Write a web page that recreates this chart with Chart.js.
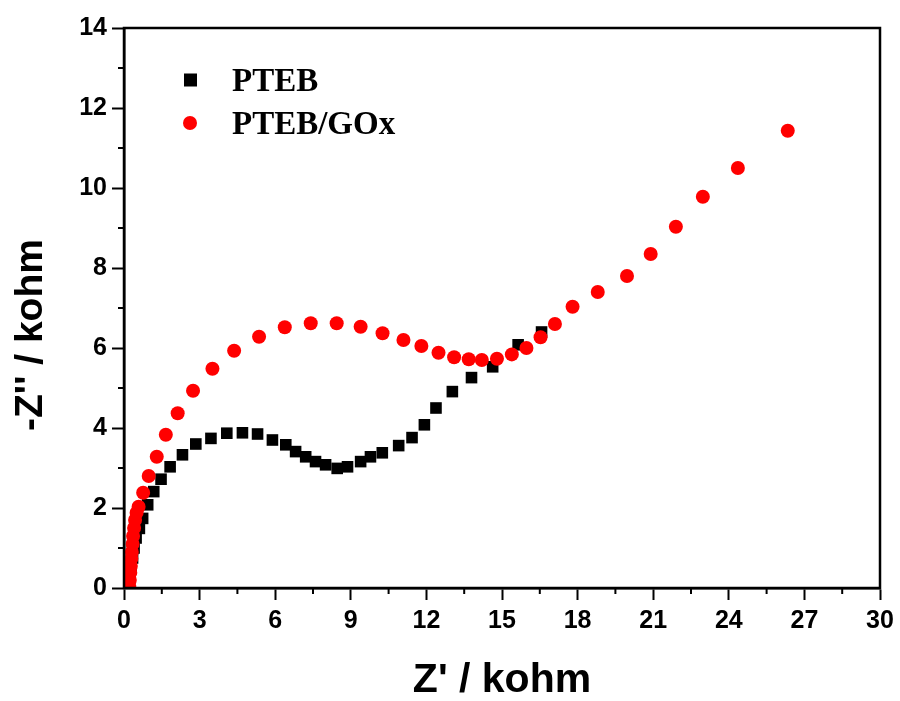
<!DOCTYPE html>
<html>
<head>
<meta charset="utf-8">
<title>Nyquist plot</title>
<script src="https://cdnjs.cloudflare.com/ajax/libs/Chart.js/4.4.1/chart.umd.min.js"></script>
<style>
  html, body { margin: 0; padding: 0; background: #fff; }
  #wrap { position: relative; width: 900px; height: 701px; }
</style>
</head>
<body>
<div id="wrap"><canvas id="nyquist"></canvas></div>
<script>
// Z' (x) and -Z'' (y) in kohm
const pteb_x = [0.2, 0.24, 0.28, 0.34, 0.40, 0.48, 0.61, 0.74, 0.94, 1.18, 1.47, 1.83, 2.32, 2.85, 3.45, 4.08,
  4.70, 5.30, 5.89, 6.42, 6.81, 7.21, 7.60, 8.0, 8.46, 8.87, 9.39, 9.78, 10.25, 10.9, 11.43, 11.92, 12.38,
  13.03, 13.79, 14.63, 15.64, 16.57];
const pteb_y = [0.03, 0.25, 0.5, 0.75, 1.0, 1.25, 1.49, 1.74, 2.08, 2.41, 2.72, 3.03, 3.33, 3.6, 3.74, 3.87,
  3.88, 3.85, 3.7, 3.58, 3.41, 3.28, 3.16, 3.08, 2.99, 3.03, 3.16, 3.28, 3.38, 3.56, 3.76, 4.08, 4.5,
  4.91, 5.26, 5.53, 6.08, 6.4];

const gox_x = [0.21, 0.23, 0.25, 0.27, 0.29, 0.31, 0.34, 0.36, 0.40, 0.44, 0.50, 0.58, 0.76, 0.98, 1.30,
  1.66, 2.13, 2.74, 3.51, 4.37, 5.36, 6.38, 7.41, 8.44, 9.39, 10.26, 11.09, 11.8, 12.48, 13.1, 13.68,
  14.2, 14.8, 15.39, 15.97, 16.53, 17.1, 17.8, 18.8, 19.96, 20.9, 21.9, 22.97, 24.36, 26.34];
const gox_y = [0.05, 0.2, 0.38, 0.55, 0.73, 0.9, 1.1, 1.3, 1.5, 1.7, 1.88, 2.03, 2.38, 2.8, 3.28,
  3.83, 4.37, 4.93, 5.48, 5.93, 6.28, 6.52, 6.62, 6.62, 6.53, 6.37, 6.2, 6.05, 5.88, 5.77, 5.72,
  5.7, 5.73, 5.84, 6.0, 6.27, 6.6, 7.03, 7.4, 7.8, 8.35, 9.03, 9.78, 10.5, 11.43];

const seriesNames = ['PTEB', 'PTEB/GOx'];
const xTitle = "Z' / kohm";
const yTitle = "-Z'' / kohm";

const SANS = "'Liberation Sans', Arial, sans-serif";
const SERIF = "'Liberation Serif', 'Times New Roman', serif";

const toPts = (xs, ys) => xs.map((x, i) => ({ x: x, y: ys[i] }));

// frame, minor ticks, rotated y title and the inset legend
const decorations = {
  id: 'decorations',
  afterDraw(chart) {
    const ctx = chart.ctx;
    const a = chart.chartArea;
    const xs = chart.scales.x, ys = chart.scales.y;
    ctx.save();
    ctx.strokeStyle = '#000';
    ctx.lineWidth = 2.5;
    ctx.strokeRect(a.left, a.top, a.right - a.left, a.bottom - a.top);

    ctx.lineWidth = 2;
    ctx.beginPath();
    for (let v = 1.5; v < 30; v += 3) {
      const px = xs.getPixelForValue(v);
      ctx.moveTo(px, a.bottom);
      ctx.lineTo(px, a.bottom + 6);
    }
    for (let v = 1; v < 14; v += 2) {
      const py = ys.getPixelForValue(v);
      ctx.moveTo(a.left - 6, py);
      ctx.lineTo(a.left, py);
    }
    ctx.stroke();

    ctx.fillStyle = '#000';
    ctx.font = 'bold 39px ' + SANS;
    ctx.textAlign = 'center';
    ctx.textBaseline = 'middle';
    ctx.translate(31, 335);
    ctx.rotate(-Math.PI / 2);
    ctx.fillText(yTitle, 0, 0);
    ctx.restore();

    ctx.save();
    ctx.font = 'bold 33px ' + SERIF;
    ctx.textAlign = 'left';
    ctx.textBaseline = 'middle';
    chart.data.datasets.forEach((ds, i) => {
      const cy = 80 + i * 43;
      ctx.fillStyle = ds.backgroundColor;
      if (ds.pointStyle === 'rect') {
        ctx.fillRect(184, cy - 6.5, 13, 13);
      } else {
        ctx.beginPath();
        ctx.arc(190, cy, 7, 0, Math.PI * 2);
        ctx.fill();
      }
      ctx.fillStyle = '#000';
      ctx.fillText(ds.label, 232, cy + 2);
    });
    ctx.restore();
  }
};

new Chart(document.getElementById('nyquist'), {
  type: 'scatter',
  data: {
    datasets: [
      {
        label: seriesNames[0],
        data: toPts(pteb_x, pteb_y),
        pointStyle: 'rect',
        pointRadius: 8.2,
        pointHoverRadius: 8.2,
        backgroundColor: '#000',
        borderColor: '#000',
        borderWidth: 0,
        order: 2
      },
      {
        label: seriesNames[1],
        data: toPts(gox_x, gox_y),
        pointStyle: 'circle',
        pointRadius: 7,
        pointHoverRadius: 7,
        backgroundColor: 'rgb(255,0,0)',
        borderColor: 'rgb(255,0,0)',
        borderWidth: 0,
        order: 1
      }
    ]
  },
  options: {
    responsive: true,
    maintainAspectRatio: false,
    animation: false,
    layout: { padding: { top: 28, right: 20, left: 0, bottom: 0 } },
    plugins: {
      legend: { display: false },
      tooltip: { enabled: false }
    },
    scales: {
      x: {
        type: 'linear',
        min: 0,
        max: 30,
        afterFit(scale) { scale.height = 113; },
        border: { display: true, color: '#000', width: 2.5 },
        grid: { drawOnChartArea: false, drawTicks: true, tickLength: 12, tickWidth: 2, tickColor: '#000' },
        ticks: { stepSize: 3, padding: 6, color: '#000', maxRotation: 0, font: { family: SANS, size: 25, weight: 'bold' } },
        title: {
          display: true,
          text: xTitle,
          color: '#000',
          font: { family: SANS, size: 41, weight: 'bold', lineHeight: 1 },
          padding: { top: 0, bottom: 0 }
        }
      },
      y: {
        type: 'linear',
        min: 0,
        max: 14,
        afterFit(scale) { scale.width = 124; },
        border: { display: true, color: '#000', width: 2.5 },
        grid: { drawOnChartArea: false, drawTicks: true, tickLength: 12, tickWidth: 2, tickColor: '#000' },
        ticks: { stepSize: 2, padding: 5, color: '#000', font: { family: SANS, size: 25, weight: 'bold' } }
      }
    }
  },
  plugins: [decorations]
});
</script>
</body>
</html>
